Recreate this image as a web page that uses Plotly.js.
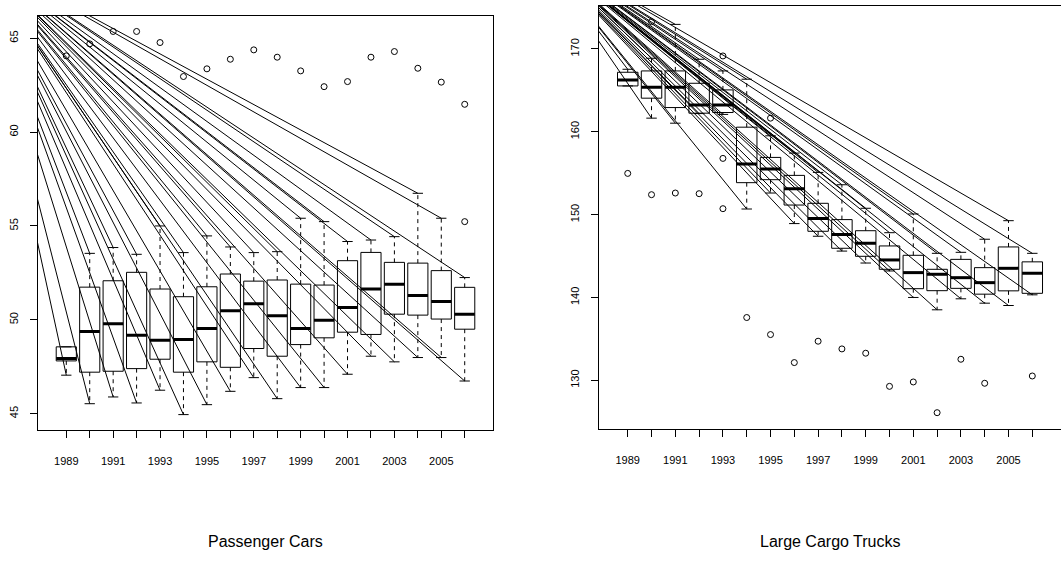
<!DOCTYPE html>
<html>
<head>
<meta charset="utf-8">
<script src="https://cdn.plot.ly/plotly-3.0.1.min.js"></script>
<style>html,body{margin:0;padding:0;background:#fff;}#chart{width:1061px;height:575px;}</style>
</head>
<body>
<div id="chart"></div>
<script>
// ---- data ----
const years = [1989,1990,1991,1992,1993,1994,1995,1996,1997,1998,1999,2000,2001,2002,2003,2004,2005,2006];
const tickLabels = ['1989','','1991','','1993','','1995','','1997','','1999','','2001','','2003','','2005',''];

// Passenger Cars
const carsLower  = [47.05,45.53,45.89,45.57,46.25,44.95,45.48,46.19,46.92,45.80,46.39,46.39,47.10,48.06,47.76,47.99,47.99,46.74];
const carsQ1     = [47.81,47.21,47.26,47.40,47.90,47.21,47.76,47.47,48.47,48.06,48.68,49.04,49.34,49.22,50.30,50.25,50.04,49.50];
const carsMedian = [47.94,49.38,49.79,49.18,48.91,48.95,49.54,50.48,50.85,50.21,49.54,49.98,50.66,51.64,51.90,51.30,50.98,50.30];
const carsQ3     = [48.56,51.74,52.08,52.53,51.64,51.23,51.76,52.44,52.06,52.12,51.90,51.85,53.15,53.59,53.06,53.02,52.62,51.73];
const carsUpper  = [48.56,53.54,53.85,53.49,55.00,53.58,54.47,53.88,53.58,53.63,55.41,55.23,54.17,54.25,54.43,56.74,55.41,52.25];
const carsOutYear  = [1989,1990,1991,1992,1993,1994,1995,1996,1997,1998,1999,2000,2001,2002,2003,2004,2005,2006,2006];
const carsOutValue = [64.06,64.70,65.36,65.36,64.77,62.96,63.37,63.88,64.38,63.99,63.26,62.42,62.69,63.99,64.29,63.40,62.66,61.48,55.23];
const carsLineOrigin = {year: 1985.1, value: 69.5};

// Large Cargo Trucks
const trucksLower  = [165.54,161.65,161.04,162.20,162.10,150.68,152.61,148.92,147.39,145.60,144.16,143.20,140.00,138.51,139.84,139.31,139.03,140.32];
const trucksQ1     = [165.54,164.06,162.93,162.25,162.33,153.86,154.22,151.16,147.99,145.94,144.97,143.40,141.06,140.82,141.10,140.40,140.80,140.50];
const trucksMedian = [166.27,165.38,165.38,163.25,163.25,156.10,155.50,153.13,149.52,147.59,146.54,144.53,143.00,142.80,142.39,141.79,143.52,142.92];
const trucksQ3     = [167.19,167.35,167.35,165.86,165.06,160.56,156.91,154.74,151.37,149.40,148.06,146.22,145.09,143.40,144.60,143.60,146.10,144.30];
const trucksUpper  = [167.55,168.88,172.97,168.76,167.35,166.35,159.52,157.43,155.10,153.61,150.77,147.82,150.08,145.33,145.45,147.03,149.27,145.33];
const trucksOutYear  = [1989,1990,1990,1991,1992,1993,1993,1993,1994,1995,1995,1996,1997,1998,1999,2000,2001,2002,2003,2004,2006];
const trucksOutValue = [154.98,152.41,173.29,152.61,152.53,169.16,156.79,150.72,137.58,161.65,135.52,132.14,134.72,133.79,133.27,129.27,129.80,126.09,132.54,129.64,130.52];
const trucksLineOrigin = {year: 1985.0, value: 182.6};

// ---- drawing ----
const FONT = '"Liberation Sans Narrow", "Arial Narrow", "Liberation Sans", Arial, sans-serif';
const HALF = 0.43, CAP = 0.22;

function panelTraces(lo, q1, med, q3, up, outX, outY, origin, xa, ya) {
  const bx = [], by = [], mx = [], my = [], wx = [], wy = [], cx = [], cy = [], lx = [], ly = [];
  years.forEach((yr, i) => {
    bx.push(yr - HALF, yr + HALF, yr + HALF, yr - HALF, yr - HALF, null);
    by.push(q1[i], q1[i], q3[i], q3[i], q1[i], null);
    mx.push(yr - HALF, yr + HALF, null);
    my.push(med[i], med[i], null);
    if (up[i] > q3[i]) {
      wx.push(yr, yr, null); wy.push(q3[i], up[i], null);
      lx.push(origin.year, yr, null); ly.push(origin.value, up[i], null);
    }
    if (lo[i] < q1[i]) {
      wx.push(yr, yr, null); wy.push(q1[i], lo[i], null);
      lx.push(origin.year, yr, null); ly.push(origin.value, lo[i], null);
    }
    cx.push(yr - CAP, yr + CAP, null, yr - CAP, yr + CAP, null);
    cy.push(up[i], up[i], null, lo[i], lo[i], null);
  });
  const base = {type: 'scatter', mode: 'lines', xaxis: xa, yaxis: ya, hoverinfo: 'skip', showlegend: false};
  return [
    Object.assign({}, base, {x: lx, y: ly, line: {color: '#000', width: 1}}),
    Object.assign({}, base, {x: wx, y: wy, line: {color: '#000', width: 1, dash: '4px,4px'}}),
    Object.assign({}, base, {x: cx, y: cy, line: {color: '#000', width: 1}}),
    Object.assign({}, base, {x: bx, y: by, line: {color: '#000', width: 1}}),
    Object.assign({}, base, {x: mx, y: my, line: {color: '#000', width: 3}}),
    Object.assign({}, base, {x: outX, y: outY, mode: 'markers', cliponaxis: false,
      marker: {symbol: 'circle-open', size: 6, color: '#000', line: {width: 1, color: '#000'}}})
  ];
}

const data = [].concat(
  panelTraces(carsLower, carsQ1, carsMedian, carsQ3, carsUpper, carsOutYear, carsOutValue, carsLineOrigin, 'x', 'y'),
  panelTraces(trucksLower, trucksQ1, trucksMedian, trucksQ3, trucksUpper, trucksOutYear, trucksOutValue, trucksLineOrigin, 'x2', 'y2')
);

const xCommon = {
  tickmode: 'array', tickvals: years, ticktext: tickLabels,
  ticks: 'outside', ticklen: 7, tickwidth: 1, tickcolor: '#000',
  showgrid: false, zeroline: false, showline: true, linecolor: '#000', linewidth: 1,
  tickfont: {family: FONT, size: 11, color: '#000'}, ticklabelstandoff: 14, fixedrange: true
};
const yCommon = {
  ticks: 'outside', ticklen: 7, tickwidth: 1, tickcolor: '#000', tickangle: -90,
  showgrid: false, zeroline: false, showline: true, linecolor: '#000', linewidth: 1,
  tickfont: {family: FONT, size: 11, color: '#000'}, ticklabelstandoff: 7, fixedrange: true
};

const layout = {
  width: 1061, height: 575,
  margin: {l: 0, r: 0, t: 0, b: 0},
  paper_bgcolor: '#fff', plot_bgcolor: '#fff',
  showlegend: false,
  xaxis: Object.assign({}, xCommon, {domain: [0.03553, 0.46494], range: [1987.78, 2007.22], anchor: 'y', mirror: true}),
  yaxis: Object.assign({}, yCommon, {domain: [0.25217, 0.97270], range: [44.13, 66.20], anchor: 'x', mirror: true, tickvals: [45,50,55,60,65]}),
  xaxis2: Object.assign({}, xCommon, {domain: [0.56428, 1.0], range: [1987.78, 2007.206], anchor: 'y2', mirror: true}),
  yaxis2: Object.assign({}, yCommon, {domain: [0.25391, 0.98957], range: [124.12, 175.19], anchor: 'x2', tickvals: [130,140,150,160,170]}),
  annotations: [
    {text: 'Passenger Cars', xref: 'paper', yref: 'paper', x: 265.5/1061, y: 1 - 541/575, showarrow: false,
     xanchor: 'center', yanchor: 'middle', font: {family: FONT, size: 16, color: '#000'}},
    {text: 'Large Cargo Trucks', xref: 'paper', yref: 'paper', x: 830/1061, y: 1 - 541/575, showarrow: false,
     xanchor: 'center', yanchor: 'middle', font: {family: FONT, size: 16, color: '#000'}}
  ]
};

Plotly.newPlot('chart', data, layout, {staticPlot: true, displayModeBar: false});
</script>
</body>
</html>
